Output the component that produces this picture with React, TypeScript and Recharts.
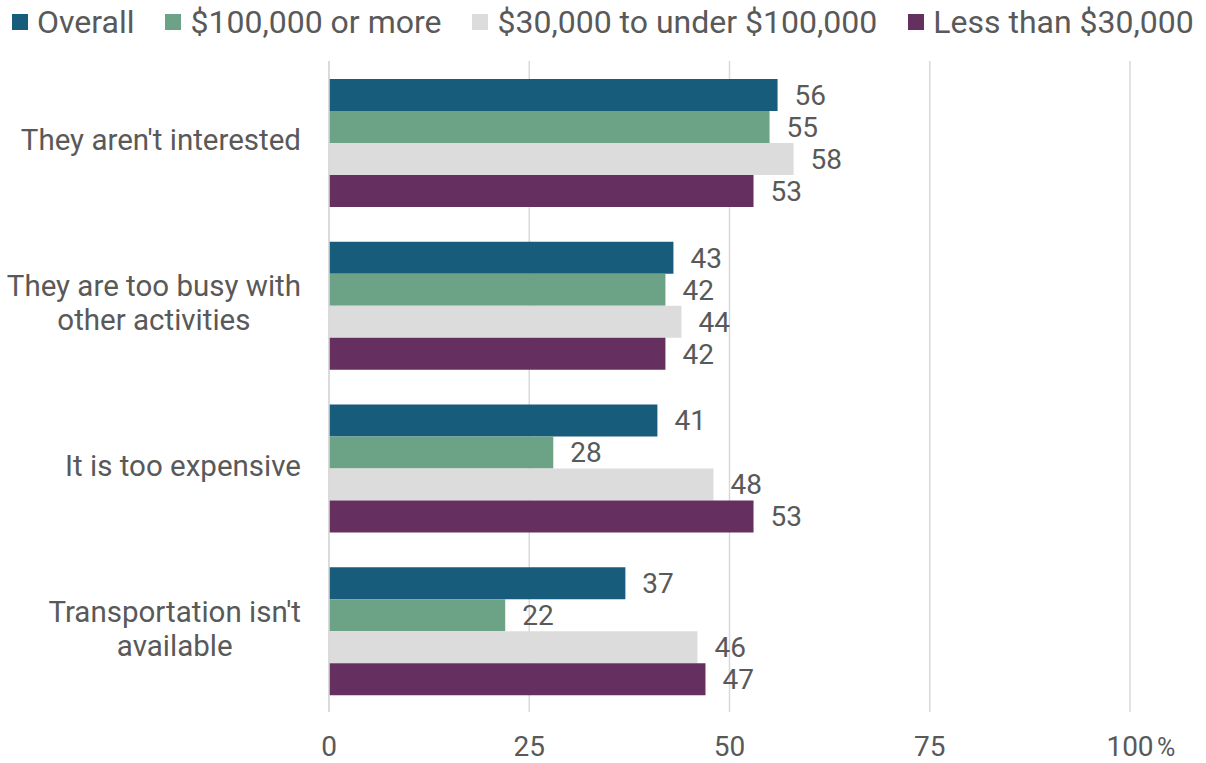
import { BarChart, Bar, XAxis, YAxis, CartesianGrid, LabelList } from "recharts";

const reasons = [
  ["They aren't interested"],
  ["They are too busy with", "other activities"],
  ["It is too expensive"],
  ["Transportation isn't", "available"],
];
const overall = [56, 43, 41, 37];
const high = [55, 42, 28, 22];
const middle = [58, 44, 48, 46];
const low = [53, 42, 53, 47];
const xTicks = [0, 25, 50, 75, 100];

const series = [
  { key: "overall", name: "Overall", color: "#175d7b" },
  { key: "high", name: "$100,000 or more", color: "#6ca286" },
  { key: "middle", name: "$30,000 to under $100,000", color: "#dcdcdc" },
  { key: "low", name: "Less than $30,000", color: "#652f5f" },
];

const data = reasons.map((lines, i) => ({
  reason: lines.join(" "),
  overall: overall[i],
  high: high[i],
  middle: middle[i],
  low: low[i],
}));

const textColor = "#595959";
const font = "Roboto, sans-serif";
const catSize = 29.5;

let ctx: CanvasRenderingContext2D | null = null;
function measure(s: string) {
  if (!ctx) ctx = document.createElement("canvas").getContext("2d");
  if (!ctx) return s.length * catSize * 0.5;
  ctx.font = `${catSize}px Roboto, sans-serif`;
  return ctx.measureText(s).width;
}

// multi-line labels are centred on each other, block right-aligned to the axis
function ReasonTick({ x, y, payload }: any) {
  const lines = reasons.find((l) => l.join(" ") === payload.value) || [payload.value];
  const right = x - 28;
  const widest = Math.max(...lines.map(measure));
  const cx = lines.length > 1 ? right - widest / 2 : right;
  const start = y - 2 - ((lines.length - 1) * 34) / 2;
  return (
    <text
      x={cx}
      y={start}
      textAnchor={lines.length > 1 ? "middle" : "end"}
      dominantBaseline="central"
      fill={textColor}
      fontSize={catSize}
      fontFamily={font}
    >
      {lines.map((line, i) => (
        <tspan key={i} x={cx} y={start + i * 34}>
          {line}
        </tspan>
      ))}
    </text>
  );
}

function PercentTick({ x, y, payload }: any) {
  return (
    <g>
      <text x={x} y={y + 44} textAnchor="middle" fill={textColor} fontSize={28} fontFamily={font}>
        {payload.value}
      </text>
      {payload.value === 100 && (
        <text x={x + 27} y={y + 44} textAnchor="start" fill={textColor} fontSize={25} fontFamily={font}>
          %
        </text>
      )}
    </g>
  );
}

export default function App() {
  return (
    <div style={{ position: "absolute", left: 0, top: 0, width: 1206, height: 763, background: "#fff", fontFamily: font }}>
      <div style={{ position: "absolute", left: 0, top: 0, height: 44, display: "flex", alignItems: "center", color: textColor, fontSize: 32 }}>
        {series.map((s, i) => (
          <div key={s.key} style={{ display: "flex", alignItems: "center", marginLeft: i === 0 ? 12 : 31 }}>
            <span style={{ width: 16, height: 16, background: s.color, display: "inline-block", marginRight: 9 }} />
            <span>{s.name}</span>
          </div>
        ))}
      </div>
      <BarChart
        width={1206}
        height={763}
        data={data}
        layout="vertical"
        margin={{ top: 61, right: 76, bottom: 0, left: 0 }}
        barCategoryGap={18}
        barGap={0}
      >
        <CartesianGrid horizontal={false} stroke="#d9d9d9" strokeWidth={1.5} />
        <XAxis
          type="number"
          domain={[0, 100]}
          ticks={xTicks}
          axisLine={false}
          tickLine={false}
          tickSize={0}
          tickMargin={0}
          height={51}
          tick={<PercentTick />}
        />
        <YAxis
          type="category"
          dataKey="reason"
          width={329}
          axisLine={{ stroke: "#d9d9d9", strokeWidth: 1.5 }}
          tickLine={false}
          tickSize={0}
          tickMargin={0}
          tick={<ReasonTick />}
        />
        {series.map((s) => (
          <Bar key={s.key} dataKey={s.key} name={s.name} fill={s.color} isAnimationActive={false}>
            <LabelList dataKey={s.key} position="right" offset={17} fill={textColor} fontSize={28} fontFamily={font} />
          </Bar>
        ))}
      </BarChart>
    </div>
  );
}
